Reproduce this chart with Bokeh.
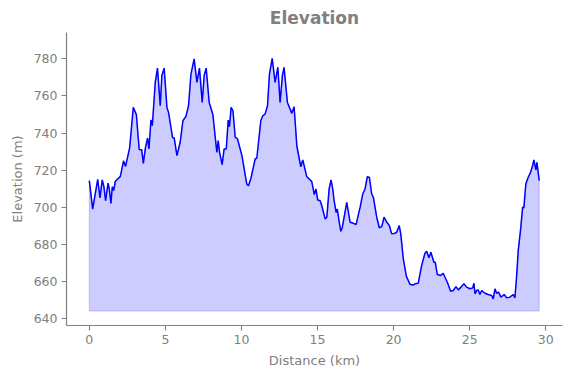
from bokeh.plotting import figure
from bokeh.models import Range1d, FixedTicker
from bokeh.embed import file_html
from bokeh.resources import INLINE

distance_km = [
    0.00, 0.22, 0.55, 0.70, 0.85, 0.96, 1.07, 1.23, 1.31, 1.42, 1.51, 1.60, 1.71,
    2.04, 2.25, 2.38, 2.65, 2.89, 3.09, 3.28, 3.44, 3.55, 3.68, 3.83, 3.92, 4.05,
    4.14, 4.33, 4.48, 4.66, 4.77, 4.92, 5.10, 5.21, 5.47, 5.58, 5.76, 5.97, 6.15,
    6.35, 6.52, 6.68, 6.89, 7.07, 7.24, 7.42, 7.55, 7.68, 7.88, 8.12, 8.38, 8.47,
    8.56, 8.73, 8.86, 9.00, 9.13, 9.21, 9.32, 9.44, 9.59, 9.74, 10.03, 10.35,
    10.46, 10.62, 10.90, 11.01, 11.27, 11.40, 11.55, 11.71, 11.84, 12.02, 12.21,
    12.39, 12.54, 12.69, 12.80, 13.02, 13.31, 13.46, 13.64, 13.90, 14.03, 14.29,
    14.62, 14.79, 14.90, 15.01, 15.17, 15.28, 15.50, 15.61, 15.76, 15.89, 16.00,
    16.09, 16.22, 16.30, 16.41, 16.53, 16.63, 16.92, 17.14, 17.36, 17.53, 17.80,
    17.97, 18.12, 18.27, 18.41, 18.56, 18.67, 18.89, 19.06, 19.22, 19.37, 19.55,
    19.72, 19.87, 20.09, 20.20, 20.37, 20.47, 20.64, 20.84, 21.08, 21.27, 21.40,
    21.62, 21.84, 22.06, 22.17, 22.32, 22.45, 22.65, 22.74, 22.87, 23.09, 23.26,
    23.38, 23.53, 23.75, 23.92, 24.10, 24.25, 24.43, 24.62, 24.80, 25.02, 25.20,
    25.28, 25.35, 25.46, 25.56, 25.67, 25.79, 26.00, 26.22, 26.44, 26.55, 26.66,
    26.77, 26.90, 27.05, 27.27, 27.43, 27.64, 27.86, 27.97, 28.08, 28.19, 28.35,
    28.48, 28.56, 28.69, 28.84, 29.00, 29.11, 29.22, 29.35, 29.42, 29.57,
]

elevation_m = [
    714.3, 699.0, 715.0, 705.0, 714.7, 711.0, 703.5, 713.0, 710.0, 702.0, 711.0,
    709.0, 714.0, 716.6, 725.0, 722.0, 732.0, 753.8, 750.0, 731.0, 731.0, 723.6,
    731.7, 737.3, 731.4, 747.0, 744.0, 767.0, 775.0, 754.7, 771.0, 775.0, 753.8,
    751.0, 737.6, 737.3, 727.8, 735.0, 746.6, 749.0, 754.7, 771.8, 780.0, 767.3,
    775.0, 756.5, 771.0, 775.0, 756.5, 750.0, 729.6, 735.9, 729.6, 723.0, 731.4,
    731.4, 747.0, 743.4, 753.8, 752.0, 737.6, 736.8, 727.8, 712.5, 711.6, 715.5,
    726.0, 726.5, 746.6, 749.3, 750.2, 754.7, 771.8, 780.2, 767.3, 775.4, 756.5,
    771.0, 775.4, 756.5, 750.6, 754.2, 733.0, 721.8, 725.5, 716.5, 713.8, 706.8,
    709.8, 703.9, 703.5, 700.8, 693.7, 694.6, 709.8, 714.7, 709.8, 703.5, 697.2,
    699.0, 692.8, 687.0, 689.2, 702.6, 691.9, 691.3, 690.6, 700.0, 707.1, 709.8,
    716.5, 716.0, 707.1, 705.3, 694.6, 688.9, 689.5, 694.6, 691.9, 690.1, 685.6,
    686.0, 686.5, 690.1, 685.6, 672.0, 662.7, 658.4, 658.0, 658.7, 659.0, 668.5,
    675.2, 676.2, 672.7, 675.7, 670.3, 670.3, 663.7, 663.2, 664.4, 662.2, 659.5,
    654.7, 655.1, 657.2, 655.4, 656.9, 658.7, 656.9, 656.0, 656.5, 659.0, 653.3,
    655.1, 655.4, 652.9, 655.1, 653.6, 652.9, 652.4, 650.6, 656.0, 653.6, 654.2,
    651.5, 652.9, 651.1, 651.5, 652.9, 651.1, 662.2, 676.6, 688.3, 700.0, 699.6,
    712.5, 716.0, 718.8, 721.5, 725.5, 720.1, 724.2, 714.3,
]

fill_base_m = 644.0
x_ticks = [0, 5, 10, 15, 20, 25, 30]
y_ticks = [640, 660, 680, 700, 720, 740, 760, 780]

GRAY = "#808080"
FONT = "DejaVu Sans"

p = figure(
    width=571, height=378,
    output_backend="svg", toolbar_location=None,
    x_range=Range1d(-1.5, 31.1), y_range=Range1d(636.2, 794.2),
    title="Elevation",
    min_border_left=66, min_border_right=9, min_border_top=32, min_border_bottom=53,
)

# filled area under the profile
patch_x = list(distance_km) + [distance_km[-1], distance_km[0]]
patch_y = list(elevation_m) + [fill_base_m, fill_base_m]
p.patch(patch_x, patch_y, fill_color="blue", fill_alpha=0.2,
        line_color="blue", line_alpha=0.2, line_width=1)

p.line(distance_km, elevation_m, line_color="blue", line_width=1.5)

p.title.align = "center"
p.title.text_font = FONT
p.title.text_font_size = "17px"
p.title.text_font_style = "bold"
p.title.text_color = GRAY

p.outline_line_color = None
p.xgrid.visible = False
p.ygrid.visible = False
p.background_fill_color = "white"
p.border_fill_color = "white"

p.xaxis.ticker = FixedTicker(ticks=x_ticks)
p.yaxis.ticker = FixedTicker(ticks=y_ticks)
p.xaxis.axis_label = "Distance (km)"
p.yaxis.axis_label = "Elevation (m)"

for ax in (p.xaxis[0], p.yaxis[0]):
    ax.axis_line_color = GRAY
    ax.axis_line_width = 1.2
    ax.major_tick_line_color = GRAY
    ax.major_tick_line_width = 1.2
    ax.major_tick_out = 5
    ax.major_tick_in = 0
    ax.minor_tick_line_color = None
    ax.major_label_text_color = GRAY
    ax.major_label_text_font = FONT
    ax.major_label_text_font_size = "12.5px"
    ax.axis_label_text_color = GRAY
    ax.axis_label_text_font = FONT
    ax.axis_label_text_font_size = "13px"
    ax.axis_label_text_font_style = "normal"
    ax.major_label_standoff = 4
    ax.axis_label_standoff = 6

open("out.html", "w").write(file_html(p, INLINE))
